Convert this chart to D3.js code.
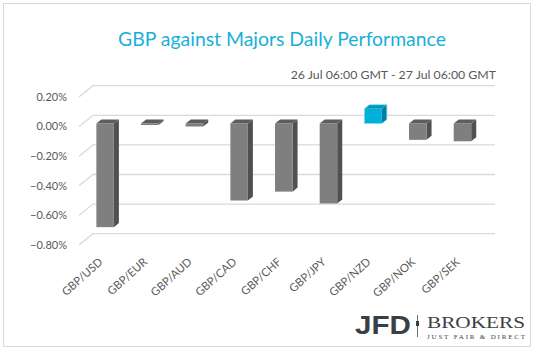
<!DOCTYPE html>
<html>
<head>
<meta charset="utf-8">
<script src="https://cdn.jsdelivr.net/npm/d3@7"></script>
<style>
  body { margin: 0; background: #fff; }
  svg { display: block; }
</style>
</head>
<body>
<div id="chart"></div>
<script>
// data
const categories = ["GBP/USD", "GBP/EUR", "GBP/AUD", "GBP/CAD", "GBP/CHF", "GBP/JPY", "GBP/NZD", "GBP/NOK", "GBP/SEK"];
const values = [-0.70, -0.01, -0.02, -0.52, -0.46, -0.54, 0.10, -0.11, -0.12];
const yTicks = [0.2, 0, -0.2, -0.4, -0.6, -0.8];
const title = "GBP against Majors Daily Performance";
const subtitle = "26 Jul 06:00 GMT - 27 Jul 06:00 GMT";

const width = 538, height = 351;

const svg = d3.select("#chart").append("svg")
  .attr("width", width)
  .attr("height", height)
  .style("font-family", "Lato, 'Open Sans', sans-serif");

// outer frame
svg.append("rect")
  .attr("x", 3.5).attr("y", 3.5)
  .attr("width", 527).attr("height", 343)
  .attr("fill", "#fff")
  .attr("stroke", "#d9d9d9");

// front plane scales
const x = d3.scaleBand()
  .domain(categories)
  .range([79, 481]);

const y = d3.scaleLinear()
  .domain([-0.8, 0.2])
  .range([245, 97]);

// depth of the 3d box (back wall offset)
const depth = { dx: 14, dy: -11.3 };
const d0 = 0.27, d1 = 0.63; // bar front / back as share of depth
const barW = 17.5;

// gridlines: back wall + side wall diagonal
const grid = svg.append("g");
yTicks.forEach(t => {
  const yf = y(t);
  grid.append("path")
    .attr("d", `M${x.range()[0]},${yf} L${x.range()[0] + depth.dx},${yf + depth.dy} L${x.range()[1] + depth.dx},${yf + depth.dy}`)
    .attr("fill", "none")
    .attr("stroke", "#d9d9d9")
    .attr("stroke-width", 1.3);
});

// y labels
svg.append("g")
  .selectAll("text")
  .data(yTicks)
  .join("text")
  .attr("x", 67)
  .attr("y", d => y(d))
  .attr("dy", "0.35em")
  .attr("text-anchor", "end")
  .attr("fill", "#595959")
  .style("font-size", "11px")
  .text(d => d3.format(".2f")(d * 1) + "%");

// bars
const bars = svg.append("g");
categories.forEach((c, i) => {
  const v = values[i];
  const pos = v > 0;
  const xl = x(c) + x.bandwidth() / 2 - barW / 2 + d0 * depth.dx;
  const xr = xl + barW;
  const yt = y(Math.max(v, 0)) + d0 * depth.dy;
  const yb = y(Math.min(v, 0)) + d0 * depth.dy;
  const ox = (d1 - d0) * depth.dx, oy = (d1 - d0) * depth.dy;
  const cols = pos ? { front: "#00b0da", side: "#00809f", top: "#0097bb" }
                   : { front: "#7f7f7f", side: "#505050", top: "#5d5d5d" };
  // side
  bars.append("path")
    .attr("d", `M${xr},${yt} L${xr + ox},${yt + oy} L${xr + ox},${yb + oy} L${xr},${yb} Z`)
    .attr("fill", cols.side);
  // front
  bars.append("rect")
    .attr("x", xl).attr("y", yt)
    .attr("width", barW).attr("height", Math.max(yb - yt, 0.6))
    .attr("fill", cols.front);
  // top
  bars.append("path")
    .attr("d", `M${xl},${yt} L${xl + ox},${yt + oy} L${xr + ox},${yt + oy} L${xr},${yt} Z`)
    .attr("fill", cols.top);
  if (pos) {
    bars.append("path")
      .attr("d", `M${xl},${yt} L${xl + ox},${yt + oy} L${xr + ox},${yt + oy} L${xr + ox},${yb + oy} L${xr},${yb} L${xl},${yb} Z`)
      .attr("fill", "none").attr("stroke", "#8fdcf0").attr("stroke-width", 0.8);
  }
});

// x labels
svg.append("g")
  .selectAll("text")
  .data(categories)
  .join("text")
  .attr("transform", d => `translate(${x(d) + x.bandwidth() / 2 + 2},${263}) rotate(-42)`)
  .attr("text-anchor", "end")
  .attr("fill", "#595959")
  .style("font-size", "11.3px")
  .text(d => d);

// titles
svg.append("text")
  .attr("x", 282).attr("y", 46)
  .attr("text-anchor", "middle")
  .attr("fill", "#1aafd8")
  .style("font-size", "19.4px")
  .text(title);

svg.append("text")
  .attr("x", 496).attr("y", 79)
  .attr("text-anchor", "end")
  .attr("fill", "#595959")
  .style("font-size", "12.3px")
  .text(subtitle);

// logo
const logo = svg.append("g");
logo.append("text")
  .attr("x", 355).attr("y", 334)
  .attr("fill", "#3a3f45")
  .attr("textLength", 56).attr("lengthAdjust", "spacingAndGlyphs")
  .style("font-family", "'Liberation Sans', Arial, sans-serif")
  .style("font-weight", "bold")
  .style("font-size", "26px")
  .text("JFD");
logo.append("line")
  .attr("x1", 417.5).attr("x2", 417.5).attr("y1", 315).attr("y2", 337)
  .attr("stroke", "#6a6e73").attr("stroke-width", 1);
logo.append("rect")
  .attr("x", 416).attr("y", 321).attr("width", 3).attr("height", 5)
  .attr("fill", "#3a3f45");
logo.append("text")
  .attr("x", 427).attr("y", 328)
  .attr("fill", "#3a3f45")
  .attr("textLength", 98).attr("lengthAdjust", "spacingAndGlyphs")
  .style("font-family", "'Liberation Serif', 'DejaVu Serif', serif")
  .style("font-size", "16px")
  .text("BROKERS");
logo.append("text")
  .attr("x", 427).attr("y", 339)
  .attr("fill", "#3a3f45")
  .attr("textLength", 98).attr("lengthAdjust", "spacing")
  .style("font-family", "'Liberation Serif', 'DejaVu Serif', serif")
  .style("font-size", "7px")
  .text("JUST FAIR & DIRECT");
</script>
</body>
</html>
